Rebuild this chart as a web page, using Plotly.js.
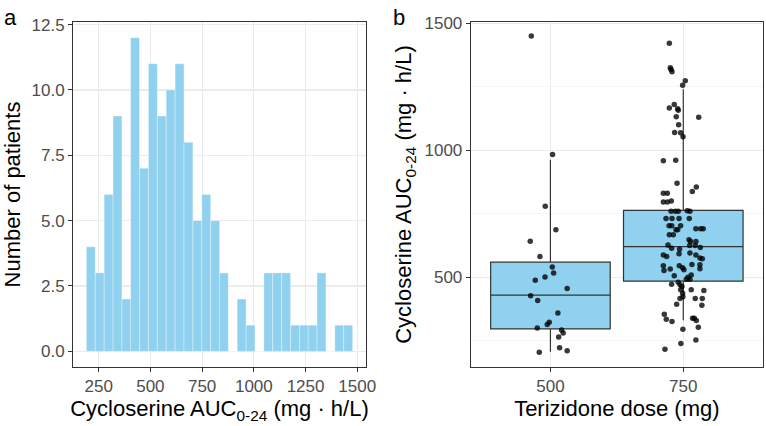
<!DOCTYPE html>
<html>
<head>
<meta charset="utf-8">
<script src="https://cdn.plot.ly/plotly-3.0.1.min.js"></script>
<style>
html,body{margin:0;padding:0;background:#fff;}
#chart{width:766px;height:426px;}
</style>
</head>
<body>
<div id="chart"></div>
<script>
// ---- Panel a: histogram (30 bins) ----
const binCenters = [212, 255, 298, 341, 384, 426, 469, 512, 555, 598,
                    641, 684, 727, 770, 813, 855, 898, 941, 984, 1027,
                    1070, 1113, 1156, 1199, 1242, 1284, 1327, 1370, 1413, 1456];
const binWidth = 42.9;
const binCounts = [4, 3, 6, 9, 2, 12, 7, 11, 9, 10,
                   11, 8, 5, 6, 5, 3, 0, 2, 1, 0,
                   3, 3, 3, 1, 1, 1, 3, 0, 1, 1];

// ---- Panel b: boxplots by dose ----
const doseLabels = ['500', '750'];
const dosePos = [1, 2];
const boxQ1 = [296, 484];
const boxMedian = [429, 620];
const boxQ3 = [559, 763];
const boxLow = [206, 330];
const boxHigh = [962, 1240];

// individual patients, 500 mg
const auc500 = [1450, 983, 779, 687, 641, 581, 540, 516, 501, 488, 455, 427,
                408, 359, 322, 313, 300, 292, 280, 264, 204, 222, 210];
const jit500 = [-0.144, 0.016, -0.039, 0.041, -0.152, -0.079, 0.014, 0.024, -0.041, -0.114, 0.126, -0.149,
                -0.096, 0.056, -0.009, -0.024, -0.099, 0.084, 0.096, 0.062, -0.084, 0.069, 0.126];
// individual patients, 750 mg
const auc750 = [1421, 1325, 1318, 1309, 1274, 1256, 1180, 1166, 1163, 1157, 1130, 1132,
                1100, 1070, 1069, 1053, 958, 960, 870, 855, 837, 830, 830,
                796, 796, 800, 760, 760, 760, 761, 760, 731, 731, 731, 731,
                702, 702, 702, 687, 687, 691, 691, 691, 667, 667, 647, 640, 640,
                627, 614, 610, 625, 625, 617,
                587, 581, 592, 595, 587, 575, 572,
                545, 526, 532, 545, 537, 529, 550, 549, 533,
                505, 500, 508, 492, 492,
                472, 480, 470, 463, 450, 437, 423, 416, 393,
                450, 447, 416, 416, 389, 354, 334, 325, 338, 338, 329, 303, 295, 252, 239, 216];
const jit750 = [-0.105, -0.098, -0.092, -0.085, 0.015, -0.005, -0.068, -0.105, -0.042, -0.038, 0.116, -0.053,
                -0.035, -0.065, -0.020, -0.002, -0.150, -0.057, -0.047, 0.098, 0.068, -0.150, -0.120,
                -0.150, -0.120, -0.090, -0.092, -0.060, -0.038, 0.030, 0.050, -0.130, -0.085, -0.032, 0.045,
                -0.107, -0.087, -0.020, -0.055, -0.042, 0.095, 0.131, 0.150, -0.105, -0.075, 0.043, 0.055, 0.095,
                -0.115, -0.088, -0.028, 0.048, 0.090, 0.128,
                -0.150, -0.125, -0.032, 0.050, 0.095, 0.125, 0.143,
                -0.150, -0.145, -0.098, -0.030, -0.005, 0.005, 0.065, 0.125, 0.125,
                -0.068, 0.035, 0.060, 0.023, 0.050,
                -0.088, -0.038, -0.025, -0.010, -0.020, -0.005, -0.003, -0.025, -0.050,
                0.060, 0.155, 0.090, 0.143, 0.140, -0.143, -0.128, -0.085, 0.070, 0.083, 0.098, 0.113, -0.003, 0.095, -0.018, -0.138];

const fillBlue = '#8fd1ee';
const ink = '#333333';
const gridCol = '#ebebeb';
const tickFont = {family: 'Liberation Sans, Arial, sans-serif', size: 17, color: '#4d4d4d'};
const titleFont = {family: 'Liberation Sans, Arial, sans-serif', size: 22, color: '#000000'};

const traces = [
  {
    type: 'bar', x: binCenters, y: binCounts, width: binWidth,
    marker: {color: fillBlue, line: {color: 'rgba(255,255,255,0.55)', width: 0.6}},
    xaxis: 'x', yaxis: 'y', hoverinfo: 'skip', showlegend: false
  }
];

for (let i = 0; i < doseLabels.length; i++) {
  traces.push({
    type: 'box', x: [dosePos[i]], q1: [boxQ1[i]], median: [boxMedian[i]], q3: [boxQ3[i]],
    lowerfence: [boxLow[i]], upperfence: [boxHigh[i]],
    width: 0.9, whiskerwidth: 0, fillcolor: fillBlue,
    line: {color: ink, width: 1.2}, boxpoints: false,
    xaxis: 'x2', yaxis: 'y2', hoverinfo: 'skip', showlegend: false
  });
}

const groups = [[auc500, jit500], [auc750, jit750]];
groups.forEach((g, i) => {
  traces.push({
    type: 'scatter', mode: 'markers',
    x: g[1].map(j => dosePos[i] + j), y: g[0],
    marker: {color: 'rgba(0,0,0,0.78)', size: 5.5},
    xaxis: 'x2', yaxis: 'y2', hoverinfo: 'skip', showlegend: false
  });
});

const axBase = {
  showline: true, linecolor: ink, linewidth: 1, mirror: true,
  showgrid: true, gridcolor: gridCol, gridwidth: 1.1,
  zeroline: false, ticks: 'outside', ticklen: 4, tickcolor: ink, tickwidth: 1,
  tickfont: tickFont
};

const layout = {
  width: 766, height: 426,
  margin: {l: 73, r: 3, t: 22, b: 59},
  paper_bgcolor: '#ffffff', plot_bgcolor: '#ffffff',
  font: {family: 'Liberation Sans, Arial, sans-serif'},
  bargap: 0,
  xaxis: Object.assign({}, axBase, {
    domain: [0, 0.4246], range: [126, 1542],
    tickvals: [250, 500, 750, 1000, 1250, 1500],
    title: {text: 'Cycloserine AUC<sub>0-24</sub> (mg · h/L)', font: titleFont, standoff: 5}
  }),
  yaxis: Object.assign({}, axBase, {
    range: [-0.6, 12.6], tickvals: [0, 2.5, 5, 7.5, 10, 12.5],
    ticktext: ['0.0', '2.5', '5.0', '7.5', '10.0', '12.5'],
    title: {text: 'Number of patients', font: titleFont, standoff: 6}
  }),
  xaxis2: Object.assign({}, axBase, {
    domain: [0.5764, 1], range: [0.4, 2.6],
    tickvals: dosePos, ticktext: doseLabels, anchor: 'y2',
    title: {text: 'Terizidone dose (mg)', font: titleFont, standoff: 5}
  }),
  yaxis2: Object.assign({}, axBase, {
    anchor: 'x2', range: [146, 1505],
    tickvals: [500, 1000, 1500],
    minor: {tickvals: [250, 750, 1250], showgrid: true, gridcolor: '#f3f3f3', gridwidth: 0.8, ticks: ''},
    title: {text: 'Cycloserine AUC<sub>0-24</sub> (mg · h/L)', font: titleFont, standoff: 6}
  }),
  annotations: [
    {text: 'a', xref: 'paper', yref: 'paper', x: -0.103, y: 1.055, xanchor: 'left', yanchor: 'top',
     showarrow: false, font: {family: 'Liberation Sans, Arial, sans-serif', size: 22, color: '#000'}},
    {text: 'b', xref: 'paper', yref: 'paper', x: 0.461, y: 1.055, xanchor: 'left', yanchor: 'top',
     showarrow: false, font: {family: 'Liberation Sans, Arial, sans-serif', size: 22, color: '#000'}}
  ]
};

Plotly.newPlot('chart', traces, layout, {displayModeBar: false, staticPlot: true});
</script>
</body>
</html>
